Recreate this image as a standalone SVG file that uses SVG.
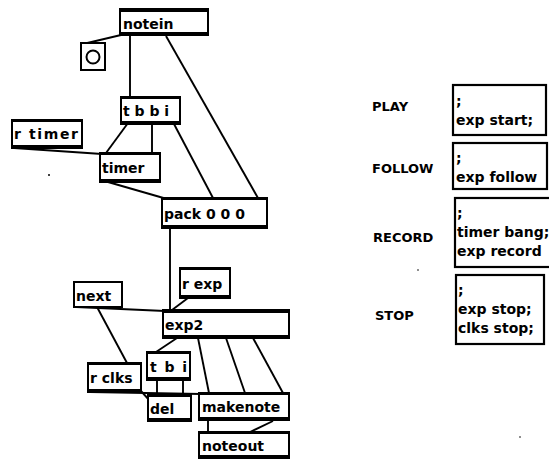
<svg xmlns="http://www.w3.org/2000/svg" width="549" height="461" viewBox="0 0 549 461">
<style>
.box{fill:#fff;stroke:#000;stroke-width:2}
.bar{fill:#000}
.t{font-family:"DejaVu Sans",sans-serif;font-weight:bold;font-size:14px;fill:#000}
.lbl{font-family:"DejaVu Sans",sans-serif;font-weight:bold;font-size:13px;fill:#000}
.msg{fill:#fff;stroke:#000;stroke-width:2.2}
.c line{stroke:#000;stroke-width:1.9;fill:none}
</style>
<rect width="549" height="461" fill="#fff"/>
<g class="c" id="connectors">
<line x1="121" y1="35" x2="83" y2="44"/>
<line x1="130" y1="35" x2="130" y2="97"/>
<line x1="166" y1="36" x2="258" y2="198"/>
<line x1="128" y1="123" x2="106" y2="153"/>
<line x1="152" y1="123" x2="152" y2="153"/>
<line x1="174" y1="124" x2="213" y2="198"/>
<line x1="14" y1="148" x2="102" y2="154"/>
<line x1="108" y1="182" x2="167" y2="199"/>
<line x1="170" y1="228" x2="170" y2="310"/>
<line x1="188" y1="298" x2="172" y2="310"/>
<line x1="76" y1="307" x2="165" y2="311"/>
<line x1="97" y1="307" x2="127" y2="363"/>
<line x1="177" y1="338" x2="156" y2="352"/>
<line x1="198" y1="338" x2="209" y2="393"/>
<line x1="226" y1="338" x2="245" y2="393"/>
<line x1="253" y1="338" x2="283" y2="393"/>
<line x1="157" y1="380" x2="157" y2="395"/>
<line x1="183" y1="380" x2="183" y2="395"/>
<line x1="90" y1="392" x2="201" y2="394"/>
<line x1="141" y1="391" x2="150" y2="401"/>
<line x1="208" y1="420" x2="208" y2="432"/>
<line x1="273" y1="421" x2="250" y2="432"/>
</g>
<g id="notein"><rect class="box" x="120" y="9" width="88" height="26"/><rect class="bar" x="120" y="8" width="88" height="4"/><rect class="bar" x="120" y="32" width="88" height="3"/><text class="t" x="123" y="29">notein</text></g>
<g id="bang"><rect class="box" x="81" y="43" width="24" height="27" stroke-width="2.5"/><circle cx="93" cy="57" r="6.5" fill="none" stroke="#000" stroke-width="2"/></g>
<g id="tbbi"><rect class="box" x="121" y="97" width="59" height="27"/><rect class="bar" x="121" y="96" width="59" height="3"/><rect class="bar" x="121" y="121" width="59" height="3"/><text class="t" x="123" y="116">t b b i</text></g>
<g id="rtimer"><rect class="box" x="12" y="120" width="70" height="28"/><rect class="bar" x="12" y="119" width="70" height="3"/><rect class="bar" x="12" y="145" width="70" height="4"/><text class="t" x="14" y="139" textLength="64">r timer</text></g>
<g id="timer"><rect class="box" x="100" y="153" width="60" height="29"/><rect class="bar" x="100" y="152" width="60" height="3"/><rect class="bar" x="100" y="179" width="60" height="3"/><text class="t" x="102" y="173">timer</text></g>
<g id="pack"><rect class="box" x="162" y="198" width="105" height="30"/><rect class="bar" x="162" y="197" width="105" height="3"/><rect class="bar" x="162" y="225" width="105" height="3"/><text class="t" x="164" y="219">pack 0 0 0</text></g>
<g id="rexp"><rect class="box" x="180" y="268" width="50" height="30"/><rect class="bar" x="180" y="267" width="50" height="3"/><rect class="bar" x="180" y="295" width="50" height="3"/><text class="t" x="182" y="289">r exp</text></g>
<g id="next"><rect class="box" x="74" y="282" width="48" height="25"/><text class="t" x="76" y="301">next</text></g>
<g id="exp2"><rect class="box" x="163" y="310" width="126" height="28"/><rect class="bar" x="163" y="309" width="126" height="4"/><rect class="bar" x="163" y="335" width="126" height="3"/><text class="t" x="165" y="330">exp2</text></g>
<g id="tbi"><rect class="box" x="147" y="352" width="43" height="28"/><rect class="bar" x="147" y="351" width="43" height="3"/><rect class="bar" x="147" y="377" width="43" height="3"/><text class="t" x="150" y="372" textLength="37">t b i</text></g>
<g id="rclks"><rect class="box" x="88" y="363" width="53" height="29"/><rect class="bar" x="88" y="362" width="53" height="3"/><rect class="bar" x="88" y="389" width="53" height="3"/><text class="t" x="90" y="383">r clks</text></g>
<g id="del"><rect class="box" x="148" y="395" width="43" height="26"/><rect class="bar" x="148" y="394" width="43" height="3"/><rect class="bar" x="148" y="418" width="43" height="3"/><text class="t" x="150" y="414">del</text></g>
<g id="makenote"><rect class="box" x="199" y="393" width="90" height="27"/><rect class="bar" x="199" y="392" width="90" height="3"/><rect class="bar" x="199" y="417" width="90" height="3"/><text class="t" x="202" y="412">makenote</text></g>
<g id="noteout"><rect class="box" x="199" y="432" width="90" height="26"/><rect class="bar" x="199" y="431" width="90" height="3"/><rect class="bar" x="199" y="455" width="90" height="3"/><text class="t" x="202" y="451">noteout</text></g>
<g id="play"><text class="lbl" x="372" y="111">PLAY</text><rect class="msg" x="453" y="85" width="93" height="50"/><text class="t" x="456" y="106">;</text><text class="t" x="456" y="125">exp start;</text></g>
<g id="follow"><text class="lbl" x="372" y="173">FOLLOW</text><rect class="msg" x="453" y="143" width="94" height="46"/><text class="t" x="456" y="163">;</text><text class="t" x="456" y="182">exp follow</text></g>
<g id="record"><text class="lbl" x="373" y="242">RECORD</text><rect class="msg" x="455" y="198" width="100" height="69"/><text class="t" x="457" y="218">;</text><text class="t" x="457" y="237">timer bang;</text><text class="t" x="457" y="256">exp record</text></g>
<g id="stop"><text class="lbl" x="375" y="320">STOP</text><rect class="msg" x="456" y="275" width="88" height="69"/><text class="t" x="458" y="295">;</text><text class="t" x="458" y="314">exp stop;</text><text class="t" x="458" y="333">clks stop;</text></g>
<g id="specks" fill="#000"><circle cx="49" cy="175" r="1"/><circle cx="418" cy="270" r="0.8"/><circle cx="520" cy="437" r="0.8"/></g>
</svg>
